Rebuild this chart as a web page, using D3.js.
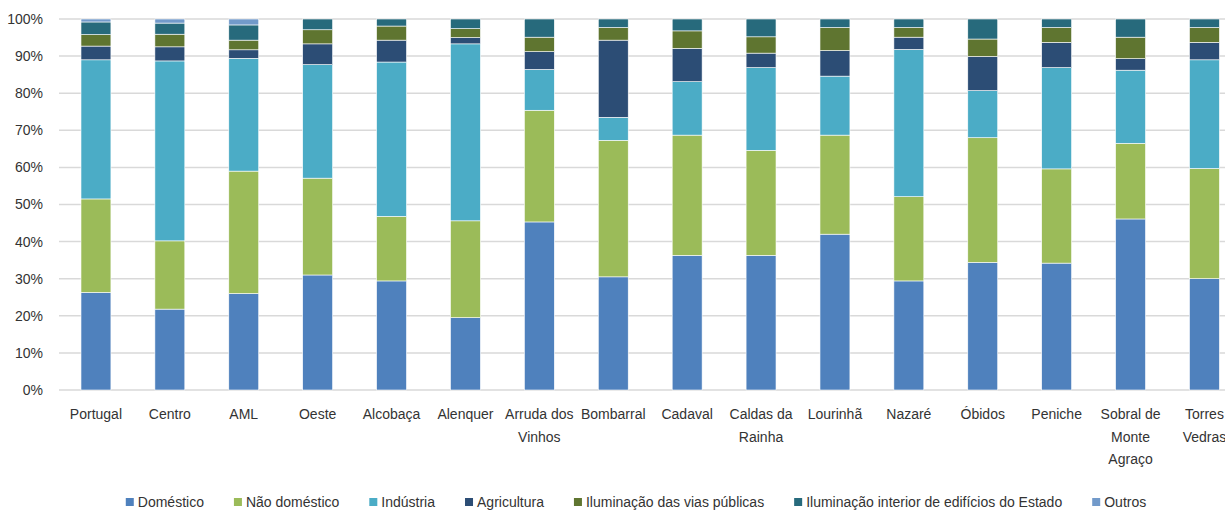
<!DOCTYPE html>
<html>
<head>
<meta charset="utf-8">
<script src="https://cdn.jsdelivr.net/npm/d3@7"></script>
<style>
	body { margin: 0; background: #fff; }
	svg { display: block; font-family: "Liberation Sans", Arial, sans-serif; }
	text { fill: #333; }
</style>
</head>
<body>
<svg id="chart" width="1225" height="510"></svg>
<script>
const categories = ["Portugal", "Centro", "AML", "Oeste", "Alcobaça", "Alenquer", "Arruda dos Vinhos", "Bombarral",
	"Cadaval", "Caldas da Rainha", "Lourinhã", "Nazaré", "Óbidos", "Peniche", "Sobral de Monte Agraço", "Torres Vedras"];

const seriesNames = ["Doméstico", "Não doméstico", "Indústria", "Agricultura", "Iluminação das vias públicas",
	"Iluminação interior de edifícios do Estado", "Outros"];

// share of each sector, in %
const domestico    = [26.3, 21.8, 26.0, 31.0, 29.4, 19.5, 45.3, 30.5, 36.3, 36.3, 42.0, 29.4, 34.4, 34.2, 46.1, 30.0];
const naoDomestico = [25.2, 18.4, 33.0, 26.1, 17.4, 26.1, 30.1, 36.8, 32.4, 28.3, 26.7, 22.7, 33.6, 25.4, 20.4, 29.7];
const industria    = [37.5, 48.5, 30.4, 30.6, 41.6, 47.7, 11.0,  6.2, 14.4, 22.3, 15.9, 39.7, 12.7, 27.3, 19.7, 29.3];
const agricultura  = [ 3.7,  3.8,  2.3,  5.6,  5.9,  1.7,  4.8, 20.8,  9.0,  3.9,  6.9,  3.3,  9.2,  6.8,  3.1,  4.7];
const ilumVias     = [ 3.1,  3.4,  2.6,  3.8,  3.8,  2.4,  3.9,  3.4,  4.7,  4.4,  6.2,  2.6,  4.7,  4.0,  5.8,  4.0];
const ilumEstado   = [ 3.4,  3.0,  4.1,  2.9,  1.9,  2.6,  4.9,  2.3,  3.2,  4.8,  2.3,  2.3,  5.4,  2.3,  4.9,  2.3];
const outros       = [ 0.8,  1.1,  1.6,  0.0,  0.0,  0.0,  0.0,  0.0,  0.0,  0.0,  0.0,  0.0,  0.0,  0.0,  0.0,  0.0];

const seriesValues = [domestico, naoDomestico, industria, agricultura, ilumVias, ilumEstado, outros];
const colors = ["#4F81BD", "#9BBB59", "#4BACC6", "#2C4D75", "#5F7530", "#276A7C", "#729ACA"];
const yTicks = [0, 10, 20, 30, 40, 50, 60, 70, 80, 90, 100];

const svg = d3.select("#chart");
const plotLeft = 59, step = 73.9;
const plotRight = plotLeft + step * categories.length;
const plotTop = 19, plotBottom = 390;

// build rows for the stack
const rows = categories.map((c, i) => {
	let r = { cat: c };
	seriesNames.forEach((s, j) => r[s] = seriesValues[j][i]);
	return r;
});
const stacked = d3.stack().keys(seriesNames)(rows);

const x = d3.scaleBand()
	.domain(categories)
	.range([plotLeft, plotRight])
	.paddingInner(0.595)
	.paddingOuter(0.2975);

const y = d3.scaleLinear()
	.domain([0, 100])
	.range([plotBottom, plotTop]);

//gridlines
svg.append("g")
	.selectAll("line")
	.data(yTicks)
	.enter().append("line")
	.attr("x1", plotLeft)
	.attr("x2", plotRight)
	.attr("y1", d => y(d))
	.attr("y2", d => y(d))
	.attr("stroke", "#D9D9D9")
	.attr("stroke-width", 1.5);

//y labels
svg.append("g")
	.selectAll("text")
	.data(yTicks)
	.enter().append("text")
	.attr("x", 43)
	.attr("y", d => y(d))
	.attr("dy", "0.35em")
	.attr("text-anchor", "end")
	.style("font-size", "14px")
	.text(d => d + "%");

//bars
svg.append("g")
	.selectAll("g")
	.data(stacked)
	.enter().append("g")
	.attr("fill", (d, i) => colors[i])
	.selectAll("rect")
	.data(d => d)
	.enter().append("rect")
	.attr("x", d => x(d.data.cat))
	.attr("width", x.bandwidth())
	.attr("y", d => y(d[1]))
	.attr("height", d => Math.max(0, y(d[0]) - y(d[1])))
	.attr("stroke", "#fff")
	.attr("stroke-width", 0.6);

//category labels, wrapped to the band width
const xl = svg.append("g");
categories.forEach(c => {
	let cx = x(c) + x.bandwidth() / 2;
	let t = xl.append("text")
		.attr("x", cx)
		.attr("y", 419)
		.attr("text-anchor", "middle")
		.style("font-size", "14px");
	let line = [];
	let tspan = t.append("tspan").attr("x", cx).attr("dy", 0);
	c.split(" ").forEach(w => {
		line.push(w);
		tspan.text(line.join(" "));
		if (tspan.node().getComputedTextLength() > step - 2 && line.length > 1) {
			line.pop();
			tspan.text(line.join(" "));
			line = [w];
			tspan = t.append("tspan")
				.attr("x", cx)
				.attr("dy", 22.5)
				.text(w);
		}
	});
});

//legend
const items = svg.append("g")
	.selectAll("g")
	.data(seriesNames)
	.enter().append("g");
items.append("rect")
	.attr("width", 8)
	.attr("height", 8)
	.attr("y", -4)
	.attr("fill", (d, i) => colors[i]);
items.append("text")
	.attr("x", 12)
	.attr("dy", "0.35em")
	.style("font-size", "14px")
	.text(d => d);

let widths = [];
items.each(function() {
	widths.push(12 + d3.select(this).select("text").node().getComputedTextLength());
});
const gap = 30;
const total = d3.sum(widths) + gap * (widths.length - 1);
let pos = 636 - total / 2;
items.attr("transform", (d, i) => {
	let p = pos;
	pos += widths[i] + gap;
	return `translate(${p},502)`;
});
</script>
</body>
</html>
